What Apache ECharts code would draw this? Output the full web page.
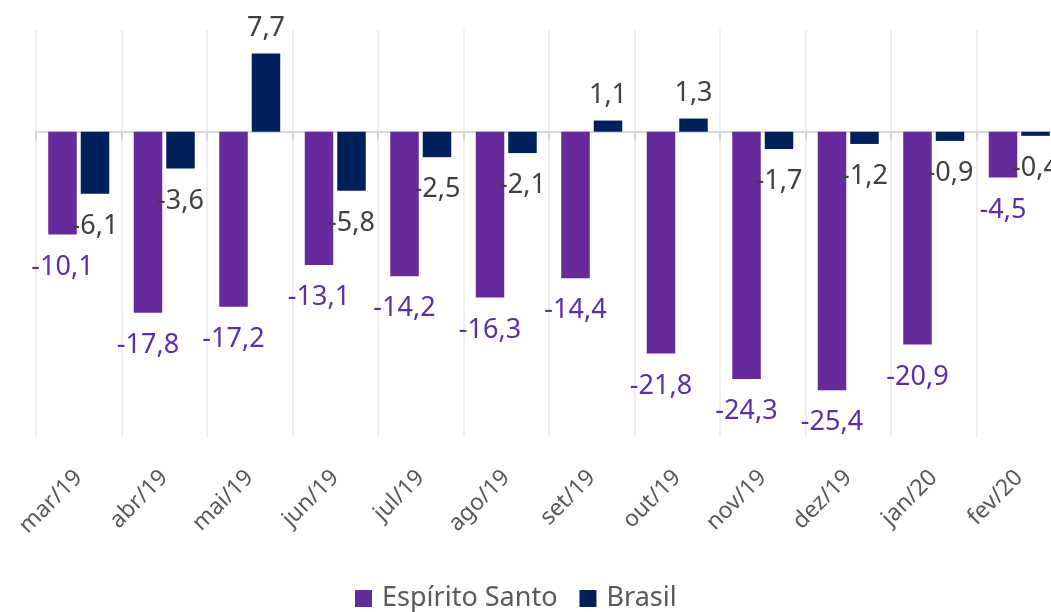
<!DOCTYPE html>
<html>
<head>
<meta charset="utf-8">
<script src="https://cdn.jsdelivr.net/npm/echarts@6/dist/echarts.min.js"></script>
<style>
html,body{margin:0;padding:0;background:#fff;}
#chart{width:1051px;height:612px;}
</style>
</head>
<body>
<div id="chart"></div>
<script>
var categories = ['mar/19','abr/19','mai/19','jun/19','jul/19','ago/19','set/19','out/19','nov/19','dez/19','jan/20','fev/20'];
var espiritoSanto = [-10.1,-17.8,-17.2,-13.1,-14.2,-16.3,-14.4,-21.8,-24.3,-25.4,-20.9,-4.5];
var brasil = [-6.1,-3.6,7.7,-5.8,-2.5,-2.1,1.1,1.3,-1.7,-1.2,-0.9,-0.4];
var seriesNames = ['Espírito Santo','Brasil'];

var FONT = '"Noto Sans", "Open Sans", sans-serif';
function fmt(v){ return v.toFixed(1).replace('.', ','); }
function withLabels(arr){
  return arr.map(function(v){
    return {value: v, label: {position: v < 0 ? 'bottom' : 'top', distance: v < 0 ? 19 : 12}};
  });
}

var chart = echarts.init(document.getElementById('chart'), null, {renderer:'canvas'});
chart.setOption({
  animation: false,
  backgroundColor: '#ffffff',
  grid: {left: 36, width: 1026, top: 30, bottom: 175, containLabel: false, outerBoundsMode: 'none'},
  legend: {
    data: seriesNames,
    top: 580,
    left: 350,
    itemWidth: 17, itemHeight: 17, itemGap: 22,
    icon: 'rect',
    textStyle: {fontFamily: FONT, fontSize: 27, color: '#595959', padding: [0,0,0,5]}
  },
  xAxis: [{
    type: 'category',
    data: categories,
    position: 'bottom',
    axisLine: {show: false, onZero: false},
    axisTick: {show: false},
    splitLine: {show: true, lineStyle: {color: '#efefef', width: 2}},
    axisLabel: {rotate: 45, margin: 37, fontFamily: FONT, fontSize: 23, color: '#595959', interval: 0}
  },{
    type: 'category',
    data: categories,
    position: 'bottom',
    axisLine: {show: true, onZero: true, lineStyle: {color: '#d9d9d9', width: 2}},
    axisTick: {show: true, length: 9, lineStyle: {color: '#d9d9d9', width: 2}},
    axisLabel: {show: false},
    splitLine: {show: false}
  }],
  yAxis: {
    type: 'value',
    min: -30, max: 10, interval: 10,
    axisLine: {show: false},
    axisTick: {show: false},
    axisLabel: {show: false},
    splitLine: {show: false}
  },
  series: [{
    name: seriesNames[0],
    type: 'bar',
    xAxisIndex: 0,
    barWidth: 28.5,
    barGap: '14%',
    data: withLabels(espiritoSanto),
    itemStyle: {color: '#662a9b'},
    label: {show: true, fontFamily: FONT, fontSize: 27, color: '#5a2fa8', formatter: function(p){return fmt(p.value);}}
  },{
    name: seriesNames[1],
    type: 'bar',
    xAxisIndex: 0,
    barWidth: 28.5,
    barGap: '14%',
    data: withLabels(brasil),
    itemStyle: {color: '#00205c'},
    label: {show: true, fontFamily: FONT, fontSize: 27, color: '#404040', formatter: function(p){return fmt(p.value);}}
  }]
});
</script>
</body>
</html>
